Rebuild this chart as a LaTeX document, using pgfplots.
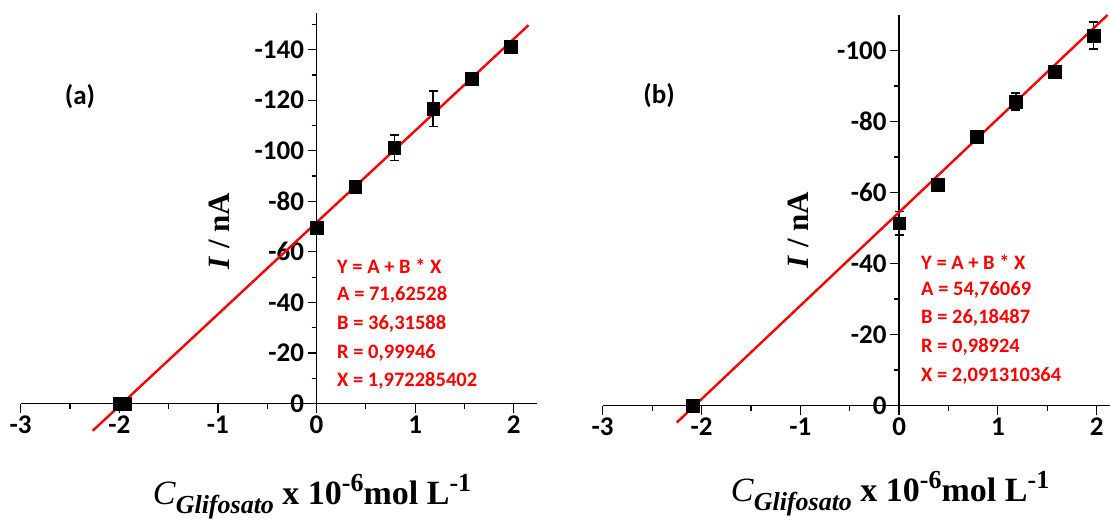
\documentclass[border=0pt]{standalone}
\usepackage{pgfplots}
\pgfplotsset{compat=1.18}
\usepackage{pgfplotstable}
\usepackage{fontspec}
\setmainfont{Liberation Serif}
\newfontfamily\carlito{Carlito}
\definecolor{fitred}{RGB}{255,0,0}

\pgfplotstableread{
x y e
0 69.6 1
0.394 85.8 1
0.788 101.2 5
1.182 116.6 7
1.576 128.6 1
1.970 141.2 1.5
}\dataA
\pgfplotstableread{
x y e
0 51.3 3.3
0.394 62.1 0.8
0.788 75.7 0.8
1.182 85.6 2.4
1.576 94.0 1
1.970 104.2 3.8
}\dataB

\newcommand\xlab{{\fontsize{34}{34}\selectfont\textit{C}\raisebox{-9pt}{\fontsize{26}{26}\selectfont\bfseries\itshape Glifosato}\textbf{ x 10}\raisebox{13pt}{\fontsize{26}{26}\selectfont\bfseries -6}\textbf{mol L}\raisebox{13pt}{\fontsize{26}{26}\selectfont\bfseries -1}}}
\newcommand\ylab{{\fontsize{31}{31}\selectfont\bfseries\textit{I} / nA}}

\pgfplotsset{
  myaxis/.style={
    scale only axis, axis lines=middle,
    axis line style={-, line width=1.3pt},
    clip=false,
    hide obscured x ticks=false, hide obscured y ticks=false,
    tick align=outside,
    major tick length=9pt, minor tick length=5pt,
    every tick/.style={black, line width=1.2pt},
    minor tick style={black, line width=1.2pt},
    ticklabel style={font=\carlito\bfseries\fontsize{27}{28}\selectfont},
    xtick={-3,-2,-1,0,1,2},
    xticklabels={-3,-2,-1,0,1,2},
    minor xtick={-2.5,-1.5,-0.5,0.5,1.5},
    xmin=-3, ymin=0,
  },
  pts/.style={only marks, mark=square*, mark size=6.3pt, black,
    mark options={line width=0.5pt},
    error bars/.cd, y dir=both, y explicit,
    error bar style={line width=1.3pt, black},
    error mark options={rotate=90, mark size=4.5pt, line width=1.3pt, black}},
  fit/.style={fitred, line width=2.4pt, mark=none},
}

\begin{document}
\begin{tikzpicture}
\path[use as bounding box] (0pt,0pt) rectangle (1110pt,-521pt);

% ---------------- (a)
\begin{axis}[myaxis, at={(20.7pt,-403.5pt)}, anchor=south west,
  width=516.7pt, height=390.7pt, xmax=2.24, ymax=154.6,
  ytick={0,20,40,60,80,100,120,140},
  yticklabels={0,-20,-40,-60,-80,-100,-120,-140},
  minor ytick={10,30,50,70,90,110,130,150}]
\addplot[pts] table[x=x,y=y,y error=e] {\dataA};
\addplot[only marks, mark=square*, mark size=6.3pt, black, mark options={xscale=1.45}] coordinates {(-1.972,0)};
\addplot[fit] coordinates {(-2.27,-10.8) (2.15,149.7)};
\end{axis}

% ---------------- (b)
\begin{axis}[myaxis, at={(602.7pt,-405.5pt)}, anchor=south west,
  width=507.8pt, height=390.5pt, xmax=2.14, ymax=110,
  ytick={0,20,40,60,80,100},
  yticklabels={0,-20,-40,-60,-80,-100},
  minor ytick={10,30,50,70,90}]
\addplot[pts] table[x=x,y=y,y error=e] {\dataB};
\addplot[only marks, mark=square*, mark size=6.8pt, black] coordinates {(-2.091,0)};
\addplot[fit] coordinates {(-2.25,-4.8) (2.11,110.0)};
\end{axis}

% annotations (a)
\node[font=\carlito\bfseries\fontsize{27}{27}\selectfont] at (80pt,-97pt) {(a)};
\begin{scope}[every node/.style={anchor=west, text=fitred, font=\carlito\bfseries\fontsize{20.5}{20.5}\selectfont, inner sep=0pt}]
\node at (337pt,-266pt) {Y = A + B * X};
\node at (337pt,-295pt) {A = 71,62528};
\node at (337pt,-323.7pt) {B = 36,31588};
\node at (337pt,-352.5pt) {R = 0,99946};
\node at (337pt,-381.3pt) {X = 1,972285402};
\end{scope}
\node[rotate=90] at (219pt,-231pt) {\ylab};
\node[anchor=base] at (312pt,-504pt) {\xlab};

% annotations (b)
\node[font=\carlito\bfseries\fontsize{27}{27}\selectfont] at (659pt,-96pt) {(b)};
\begin{scope}[every node/.style={anchor=west, text=fitred, font=\carlito\bfseries\fontsize{20.5}{20.5}\selectfont, inner sep=0pt}]
\node at (921pt,-261.7pt) {Y = A + B * X};
\node at (921pt,-290pt) {A = 54,76069};
\node at (921pt,-318.3pt) {B = 26,18487};
\node at (921pt,-346.7pt) {R = 0,98924};
\node at (921pt,-375.7pt) {X = 2,091310364};
\end{scope}
\node[rotate=90] at (798pt,-230pt) {\ylab};
\node[anchor=base] at (890pt,-501pt) {\xlab};
\end{tikzpicture}
\end{document}
